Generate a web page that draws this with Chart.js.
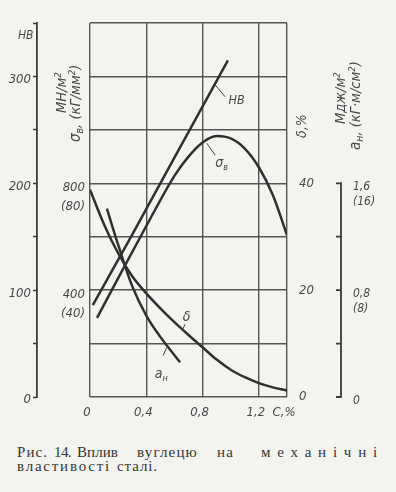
<!DOCTYPE html>
<html><head><meta charset="utf-8">
<script src="https://cdn.jsdelivr.net/npm/chart.js@4"></script>
<style>
html,body{margin:0;padding:0;background:#f3f3ef;}
#wrap{position:relative;width:396px;height:492px;overflow:hidden;background:#f3f3ef;}
canvas{display:block;}
.w{position:absolute;font:15px "Liberation Serif","DejaVu Serif",serif;color:#363636;line-height:15px;white-space:nowrap;letter-spacing:1px;}
</style></head><body>
<div id="wrap"><canvas id="c" width="396" height="430"></canvas>
<span class="w" data-l="17" data-r="48" data-t="445">Рис.</span>
<span class="w" data-l="54" data-r="71" data-t="445">14.</span>
<span class="w" data-l="77" data-r="118" data-t="445">Вплив</span>
<span class="w" data-l="137" data-r="198" data-t="445">вуглецю</span>
<span class="w" data-l="217" data-r="234" data-t="445">на</span>
<span class="w" data-l="261" data-r="384" data-t="445">механічні</span>
<span class="w" data-l="17" data-r="111" data-t="459">властивості</span>
<span class="w" data-l="117" data-r="158" data-t="459">сталі.</span>
</div>
<script>
// ---- data ----
const carbonTicks = [0, 0.4, 0.8, 1.2, 1.4];
const carbonTickLabels = ['0', '0,4', '0,8', '1,2', 'C,%'];

const hbTicks = [0, 50, 100, 150, 200, 250, 300, 350];
const hbTickLabels = ['0', '', '100', '', '200', '', '300', ''];

const sigmaTicks = [0, 200, 400, 600, 800, 1000, 1200, 1400];
const sigmaTickLabels = ['', '', ['400', '(40)'], '', ['800', '(80)'], '', '', ''];

const deltaTicks = [0, 10, 20, 30, 40, 50, 60, 70];
const deltaTickLabels = ['0', '', '20', '', '40', '', '', ''];

const anTicks = [0, 0.4, 0.8, 1.2, 1.6];
const anTickLabels = [['0', ''], '', ['0,8', '(8)'], '', ['1,6', '(16)']];

const hbCarbon = [0.02, 0.3, 0.6, 0.98];
const hbValues = [86, 152, 224, 315];

const sigmaCarbon = [0.05, 0.2, 0.4, 0.6, 0.7, 0.8, 0.9, 1.0, 1.1, 1.2, 1.3, 1.4];
const sigmaValues = [296, 445, 640, 828, 900, 953, 977, 968, 930, 860, 755, 606];

const deltaCarbon = [0, 0.1, 0.2, 0.3, 0.4, 0.5, 0.6, 0.7, 0.8, 0.9, 1.0, 1.1, 1.2, 1.3, 1.4];
const deltaValues = [38.8, 32.3, 26.9, 22.6, 19.4, 16.6, 14.0, 11.6, 9.3, 7.0, 5.1, 3.7, 2.6, 1.8, 1.2];

const anCarbon = [0.12, 0.2, 0.3, 0.4, 0.5, 0.64];
const anValues = [1.41, 1.14, 0.83, 0.61, 0.45, 0.26];

// ---- caption word fitting (layout only) ----
document.querySelectorAll('.w').forEach(el => {
  const l = +el.dataset.l, r = +el.dataset.r, n = el.textContent.length;
  el.style.left = l + 'px';
  el.style.top = el.dataset.t + 'px';
  el.style.letterSpacing = '0px';
  const w0 = el.getBoundingClientRect().width;
  el.style.letterSpacing = ((r - l - w0) / n) + 'px';
});

// ---- style ----
const FONT = "'DejaVu Sans Condensed','Liberation Sans Narrow','DejaVu Sans',sans-serif";
const TXT = '#484848';
const GRID = '#555555';
const CURVE = '#303030';

const pts = (xs, ys) => xs.map((x, i) => ({x, y: ys[i]}));
const fixTicks = vals => scale => { scale.ticks = vals.map(v => ({value: v})); };
const lbl = (vals, labels) => (v) => { const i = vals.findIndex(t => Math.abs(t - v) < 1e-9); return i < 0 ? '' : labels[i]; };
const tickFont = {family: FONT, size: 13, style: 'italic'};

function rich(ctx, parts, x, y, rot) {
  ctx.save();
  ctx.translate(x, y);
  if (rot) ctx.rotate(-Math.PI / 2);
  ctx.textAlign = 'left';
  ctx.textBaseline = 'alphabetic';
  ctx.fillStyle = TXT;
  let cx = 0;
  for (const p of parts) {
    ctx.font = `italic ${p.s}px ${FONT}`;
    ctx.fillText(p.t, cx, p.dy || 0);
    cx += ctx.measureText(p.t).width;
  }
  ctx.restore();
}

const overlay = {
  id: 'overlay',
  afterDraw(chart) {
    const ctx = chart.ctx, s = chart.scales;
    ctx.save();
    // a_н axis: line + ticks on its left side
    const ya = s.ya, ax = ya.left;
    ctx.strokeStyle = '#3a3a3a';
    ctx.lineWidth = 1.8;
    ctx.beginPath();
    ctx.moveTo(ax, ya.getPixelForValue(1.6) - 1);
    ctx.lineTo(ax, ya.getPixelForValue(0));
    anTicks.forEach(v => { const y = ya.getPixelForValue(v); ctx.moveTo(ax - 5, y); ctx.lineTo(ax + 0.9, y); });
    ctx.stroke();

    // axis titles
    rich(ctx, [{t: 'HB', s: 12}], 18, 39, false);
    rich(ctx, [{t: 'σ', s: 15}, {t: 'в', s: 10.5, dy: 3}, {t: ', (кГ/мм', s: 14.5}, {t: '2', s: 9.5, dy: -5}, {t: ')', s: 14.5}], 80, 142, true);
    rich(ctx, [{t: 'МН/м', s: 14.5}, {t: '2', s: 9.5, dy: -5}], 66, 113, true);
    rich(ctx, [{t: 'δ,%', s: 14}], 306, 138, true);
    rich(ctx, [{t: 'Мдж/м', s: 14.5}, {t: '2', s: 9.5, dy: -5}], 345, 124, true);
    rich(ctx, [{t: 'a', s: 15}, {t: 'н', s: 10.5, dy: 3}, {t: ', (кГ·м/см', s: 14.5}, {t: '2', s: 9.5, dy: -5}, {t: ')', s: 14.5}], 360, 150, true);

    // curve labels with leader lines (placed in data coordinates)
    const x = s.x;
    const lead = (sc, c1, v1, c2, v2) => {
      ctx.beginPath();
      ctx.moveTo(x.getPixelForValue(c1), sc.getPixelForValue(v1));
      ctx.lineTo(x.getPixelForValue(c2), sc.getPixelForValue(v2));
      ctx.stroke();
    };
    ctx.lineWidth = 1;
    ctx.strokeStyle = '#444';
    lead(s.yHB, 0.89, 292, 0.96, 281);
    rich(ctx, [{t: 'HB', s: 12.5}], x.getPixelForValue(0.985), s.yHB.getPixelForValue(274), false);
    lead(s.ys, 0.83, 950, 0.89, 905);
    rich(ctx, [{t: 'σ', s: 14}, {t: 'в', s: 9, dy: 3}], x.getPixelForValue(0.89), s.ys.getPixelForValue(860), false);
    lead(s.yd, 0.675, 13.6, 0.655, 12.4);
    rich(ctx, [{t: 'δ', s: 14}], x.getPixelForValue(0.66), s.yd.getPixelForValue(14.2), false);
    lead(s.ya, 0.545, 0.37, 0.52, 0.31);
    rich(ctx, [{t: 'a', s: 14}, {t: 'н', s: 9, dy: 3}], x.getPixelForValue(0.46), s.ya.getPixelForValue(0.14), false);
    ctx.restore();
  }
};

const ds = (label, data, axis, smooth) => ({
  label, data, yAxisID: axis,
  borderColor: CURVE, borderWidth: 2.5, pointRadius: 0, fill: false,
  cubicInterpolationMode: smooth ? 'monotone' : 'default', tension: 0
});

new Chart(document.getElementById('c'), {
  type: 'line',
  data: {
    datasets: [
      ds('HB', pts(hbCarbon, hbValues), 'yHB', false),
      ds('σв', pts(sigmaCarbon, sigmaValues), 'ys', true),
      ds('δ', pts(deltaCarbon, deltaValues), 'yd', true),
      ds('aн', pts(anCarbon, anValues), 'ya', true)
    ]
  },
  options: {
    responsive: false,
    devicePixelRatio: 1,
    animation: false,
    layout: {padding: {top: 23, bottom: 8, left: 0, right: 0}},
    plugins: {legend: {display: false}, tooltip: {enabled: false}},
    scales: {
      x: {
        type: 'linear', position: 'bottom', min: 0, max: 1.4,
        afterBuildTicks: fixTicks(carbonTicks),
        afterFit: sc => { sc.height = 25; },
        grid: {color: GRID, lineWidth: 1.4, drawTicks: false},
        border: {display: false},
        ticks: {callback: lbl(carbonTicks, carbonTickLabels), font: tickFont, color: TXT, padding: 8, maxRotation: 0, autoSkip: false, labelOffset: -3}
      },
      ys: {
        type: 'linear', position: 'left', weight: 0, min: 0, max: 1400,
        afterBuildTicks: fixTicks(sigmaTicks),
        afterFit: sc => { sc.width = 53; },
        grid: {color: GRID, lineWidth: 1.4, drawTicks: false},
        border: {display: false},
        ticks: {callback: lbl(sigmaTicks, sigmaTickLabels), font: {...tickFont, lineHeight: 1.5}, color: TXT, padding: 5, labelOffset: 14, autoSkip: false}
      },
      yHB: {
        type: 'linear', position: 'left', weight: 1, min: 0, max: 350,
        afterBuildTicks: fixTicks(hbTicks),
        afterFit: sc => { sc.width = 37; },
        grid: {drawOnChartArea: false, drawTicks: true, tickLength: 4, tickColor: '#3a3a3a', tickWidth: 1.5},
        border: {display: true, color: '#3a3a3a', width: 1.8},
        ticks: {callback: lbl(hbTicks, hbTickLabels), font: tickFont, color: TXT, padding: 2, labelOffset: 3, autoSkip: false}
      },
      yd: {
        type: 'linear', position: 'right', weight: 0, min: 0, max: 70,
        afterBuildTicks: fixTicks(deltaTicks),
        afterFit: sc => { sc.width = 54; },
        grid: {display: false},
        border: {display: false},
        ticks: {callback: lbl(deltaTicks, deltaTickLabels), font: tickFont, color: TXT, padding: 4, autoSkip: false}
      },
      ya: {
        type: 'linear', position: 'right', weight: 1, min: 0, max: 2.8,
        afterBuildTicks: fixTicks(anTicks),
        afterFit: sc => { sc.width = 55; },
        grid: {display: false},
        border: {display: false},
        ticks: {callback: lbl(anTicks, anTickLabels), font: {...tickFont, size: 12, lineHeight: 1.25}, color: TXT, padding: 4, labelOffset: 11, autoSkip: false}
      }
    }
  },
  plugins: [overlay]
});
</script>
</body></html>
